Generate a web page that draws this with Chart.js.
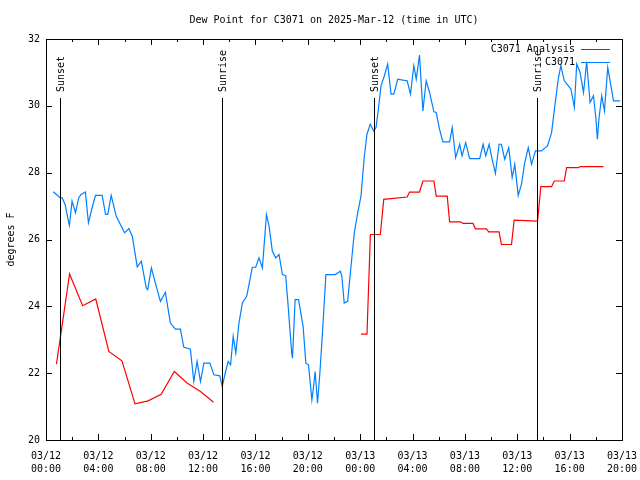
<!DOCTYPE html>
<html>
<head>
<meta charset="utf-8">
<script src="https://cdn.jsdelivr.net/npm/chart.js@4/dist/chart.umd.min.js"></script>
<style>
  html, body { margin: 0; padding: 0; background: #fff; }
  canvas { display: block; }
</style>
</head>
<body>
<canvas id="dewpt" width="640" height="480"></canvas>
<script>
// hours since 03/12 00:00 UTC
const tickLabels = ["03/12 00:00", "03/12 04:00", "03/12 08:00", "03/12 12:00", "03/12 16:00", "03/12 20:00",
                    "03/13 00:00", "03/13 04:00", "03/13 08:00", "03/13 12:00", "03/13 16:00", "03/13 20:00"];
const yTicks = [20, 22, 24, 26, 28, 30, 32];

const sunEvents = ["Sunset", "Sunrise", "Sunset", "Sunrise"];
const sunHours = [1.1, 13.46, 25.08, 37.49];

// C3071 Analysis (gap between the two runs)
const anaHours = [0.8, 1.8, 2.8, 3.8, 4.8, 5.8, 6.8, 7.8, 8.8, 9.8, 10.8, 11.8, 12.8, 18.0,
  24.06, 24.52, 24.78, 25.54, 25.8, 27.59, 27.77, 28.53, 28.79, 29.63, 29.81, 30.65, 30.83, 31.67,
  31.85, 32.62, 32.8, 33.64, 33.82, 34.61, 34.79, 35.56, 35.76, 37.55, 37.8, 38.62, 38.83, 39.59,
  39.77, 40.66, 40.8, 42.58];
const anaDewpt = [22.27, 24.97, 24.02, 24.22, 22.65, 22.37, 21.08, 21.17, 21.37, 22.05, 21.7, 21.45, 21.13, null,
  23.17, 23.17, 26.15, 26.15, 27.2, 27.27, 27.42, 27.42, 27.75, 27.75, 27.3, 27.3, 26.53, 26.53,
  26.48, 26.48, 26.32, 26.32, 26.23, 26.23, 25.85, 25.85, 26.58, 26.55, 27.58, 27.58, 27.75, 27.75,
  28.15, 28.15, 28.18, 28.18];

// C3071 observations
const obsHours = [0.56, 1.07, 1.23, 1.46, 1.74, 1.79, 1.99, 2.25, 2.5, 2.68, 3.01, 3.24, 3.52, 3.78,
  4.29, 4.55, 4.72, 4.98, 5.36, 6.0, 6.33, 6.59, 6.97, 7.28, 7.66, 7.77, 8.05, 8.35, 8.74, 9.12,
  9.5, 9.89, 10.27, 10.52, 11.03, 11.29, 11.54, 11.8, 12.06, 12.52, 12.82, 13.28, 13.46, 13.72,
  13.92, 14.1, 14.3, 14.5, 14.74, 15.0, 15.33, 15.58, 15.76, 16.02, 16.27, 16.53, 16.84, 17.04,
  17.29, 17.55, 17.8, 18.06, 18.31, 18.51, 18.77, 18.83, 19.03, 19.29, 19.64, 19.85, 20.05, 20.31,
  20.41, 20.56, 20.74, 20.92, 21.12, 21.38, 22.1, 22.48, 22.6, 22.78, 23.04, 23.3, 23.55, 23.81,
  24.06, 24.32, 24.52, 24.77, 25.03, 25.21, 25.39, 25.59, 25.85, 26.1, 26.36, 26.57, 26.87, 27.26,
  27.59, 27.84, 28.1, 28.28, 28.53, 28.79, 29.04, 29.3, 29.63, 29.81, 30.06, 30.32, 30.83, 31.03,
  31.29, 31.6, 31.78, 32.06, 32.36, 33.13, 33.39, 33.59, 33.85, 34.08, 34.33, 34.61, 34.79, 35.04,
  35.35, 35.61, 35.81, 36.07, 36.32, 36.57, 36.84, 37.09, 37.39, 37.85, 38.31, 38.62, 38.87, 39.13,
  39.33, 39.59, 40.1, 40.36, 40.54, 40.8, 41.06, 41.3, 41.56, 41.82, 42.0, 42.12, 42.25, 42.45,
  42.66, 42.91, 43.35, 43.86];
const obsDewpt = [27.43, 27.25, 27.25, 27.05, 26.5, 26.42, 27.15, 26.8, 27.25, 27.35, 27.42, 26.5, 26.95, 27.32,
  27.32, 26.75, 26.75, 27.32, 26.7, 26.2, 26.33, 26.1, 25.18, 25.35, 24.55, 24.5, 25.15, 24.7, 24.15, 24.42,
  23.5, 23.32, 23.32, 22.78, 22.72, 21.75, 22.35, 21.75, 22.3, 22.3, 21.95, 21.92, 21.6, 22.05,
  22.35, 22.25, 23.1, 22.6, 23.5, 24.1, 24.3, 24.8, 25.17, 25.17, 25.45, 25.15, 26.75, 26.4,
  25.65, 25.45, 25.55, 24.95, 24.92, 23.95, 22.6, 22.45, 24.2, 24.2, 23.4, 22.3, 22.25, 21.2,
  21.5, 22.05, 21.1, 22.0, 23.2, 24.95, 24.95, 25.05, 24.9, 24.1, 24.15, 25.2, 26.2, 26.8,
  27.3, 28.5, 29.15, 29.45, 29.25, 29.35, 29.9, 30.6, 30.9, 31.25, 30.35, 30.35, 30.8, 30.77,
  30.75, 30.35, 31.2, 30.8, 31.52, 29.85, 30.75, 30.4, 29.82, 29.8, 29.3, 28.92, 28.92, 29.35,
  28.45, 28.85, 28.5, 28.9, 28.42, 28.42, 28.85, 28.5, 28.85, 28.4, 27.98, 28.85, 28.85, 28.4,
  28.75, 27.85, 28.25, 27.32, 27.65, 28.3, 28.75, 28.25, 28.65, 28.65, 28.8, 29.2, 30.0, 30.8,
  31.2, 30.75, 30.5, 29.95, 31.25, 31.0, 30.4, 31.32, 30.1, 30.3, 29.65, 29.0, 29.65, 30.3,
  29.85, 31.15, 30.15, 30.15];

const FONT = "DejaVu Sans Mono";
const RED = "#ff0000";
const BLUE = "#0080ff";

const toPoints = (xs, ys) => xs.map((h, i) => ({ x: h, y: ys[i] }));

// gnuplot-like frame, inward ticks, sun lines, title and key
const gnuDecor = {
  id: "gnuDecor",
  afterDatasetsDraw(chart) {
    const ctx = chart.ctx;
    const a = chart.chartArea;
    const xs = chart.scales.x, ys = chart.scales.y;
    ctx.save();
    ctx.strokeStyle = "#000";
    ctx.lineWidth = 1;
    ctx.strokeRect(Math.round(a.left) + 0.5, Math.round(a.top) + 0.5,
                   Math.round(a.right - a.left), Math.round(a.bottom - a.top));

    ctx.beginPath();
    for (let h = 0; h <= 44; h += 2) {
      const px = Math.round(xs.getPixelForValue(h)) + 0.5;
      const len = h % 4 === 0 ? 6 : 3;
      ctx.moveTo(px, a.bottom); ctx.lineTo(px, a.bottom - len);
      ctx.moveTo(px, a.top); ctx.lineTo(px, a.top + len);
    }
    yTicks.forEach(v => {
      const py = Math.round(ys.getPixelForValue(v)) + 0.5;
      ctx.moveTo(a.left, py); ctx.lineTo(a.left + 6, py);
      ctx.moveTo(a.right, py); ctx.lineTo(a.right - 6, py);
    });
    ctx.stroke();

    // sunrise / sunset markers
    ctx.font = "10px '" + FONT + "'";
    ctx.fillStyle = "#000";
    sunHours.forEach((h, i) => {
      const px = Math.round(xs.getPixelForValue(h)) + 0.5;
      ctx.beginPath();
      ctx.moveTo(px, 98); ctx.lineTo(px, a.bottom);
      ctx.stroke();
      ctx.save();
      ctx.translate(px + 1, 92);
      ctx.rotate(-Math.PI / 2);
      ctx.textAlign = "left";
      ctx.textBaseline = "middle";
      ctx.fillText(sunEvents[i], 0, 0);
      ctx.restore();
    });

    // title
    ctx.textAlign = "center";
    ctx.textBaseline = "middle";
    ctx.fillText("Dew Point for C3071 on 2025-Mar-12 (time in UTC)", (a.left + a.right) / 2, 20);

    // y axis label
    ctx.save();
    ctx.translate(11, (a.top + a.bottom) / 2);
    ctx.rotate(-Math.PI / 2);
    ctx.fillText("degrees F", 0, 0);
    ctx.restore();

    // key
    const key = [["C3071 Analysis", RED, 49.5], ["C3071", BLUE, 62.5]];
    key.forEach(([label, col, ky]) => {
      ctx.textAlign = "right";
      ctx.fillStyle = "#000";
      ctx.fillText(label, 575, ky);
      ctx.strokeStyle = col;
      ctx.beginPath();
      ctx.moveTo(581, ky); ctx.lineTo(610, ky);
      ctx.stroke();
    });
    ctx.restore();
  }
};

new Chart(document.getElementById("dewpt"), {
  type: "line",
  data: {
    datasets: [{
      label: "C3071 Analysis",
      data: toPoints(anaHours, anaDewpt),
      borderColor: RED,
      borderWidth: 1.2,
      pointRadius: 0,
      spanGaps: false,
      tension: 0
    }, {
      label: "C3071",
      data: toPoints(obsHours, obsDewpt),
      borderColor: BLUE,
      borderWidth: 1.2,
      pointRadius: 0,
      tension: 0
    }]
  },
  options: {
    responsive: false,
    animation: false,
    devicePixelRatio: 1,
    layout: { padding: { left: 0, right: 18, top: 39, bottom: 0 } },
    plugins: {
      legend: { display: false },
      tooltip: { enabled: false },
      title: { display: false }
    },
    scales: {
      x: {
        type: "linear",
        min: 0,
        max: 44,
        grid: { display: false, drawTicks: false },
        border: { display: false },
        ticks: {
          stepSize: 4,
          maxRotation: 0,
          autoSkip: false,
          padding: 10,
          color: "#000",
          font: { family: FONT, size: 10, lineHeight: 1.3 },
          callback: (v, i) => tickLabels[i] ? tickLabels[i].split(" ") : ""
        },
        afterFit: s => { s.height = 40; s.paddingLeft = 0; s.paddingRight = 0; }
      },
      y: {
        min: 20,
        max: 32,
        grid: { display: false, drawTicks: false },
        border: { display: false },
        ticks: {
          stepSize: 2,
          padding: 6,
          color: "#000",
          font: { family: FONT, size: 10 }
        },
        afterFit: s => { s.width = 46; s.paddingTop = 0; s.paddingBottom = 0; }
      }
    }
  },
  plugins: [gnuDecor]
});
</script>
</body>
</html>
